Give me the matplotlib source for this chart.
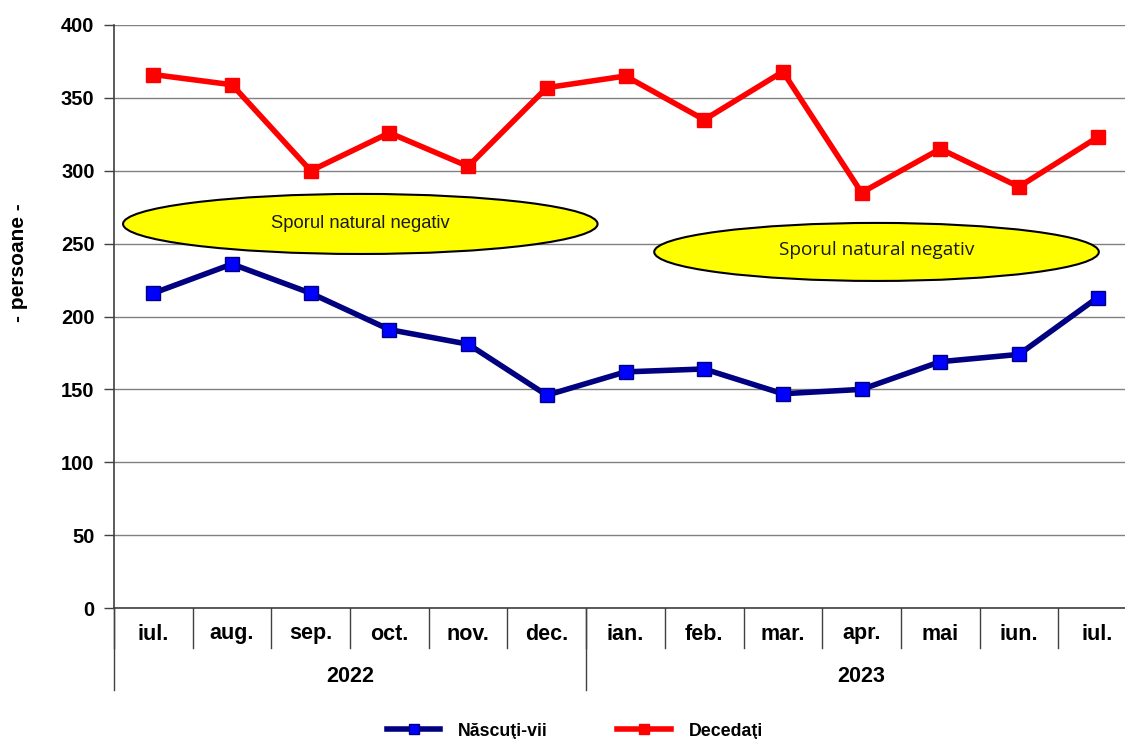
import matplotlib
matplotlib.use("Agg")
import matplotlib.pyplot as plt
from matplotlib.patches import Ellipse
from matplotlib.lines import Line2D

months = ["iul.", "aug.", "sep.", "oct.", "nov.", "dec.", "ian.", "feb.", "mar.", "apr.", "mai", "iun.", "iul."]
years = ["2022", "2023"]
year_counts = [6, 7]
nascuti = [216, 236, 216, 191, 181, 146, 162, 164, 147, 150, 169, 174, 213]
decedati = [366, 359, 300, 326, 303, 357, 365, 335, 368, 285, 315, 289, 323]
yticks = [0, 50, 100, 150, 200, 250, 300, 350, 400]

plt.rcParams['font.family'] = ['Liberation Sans', 'DejaVu Sans']

fig = plt.figure(figsize=(11.25, 7.39), dpi=100)
ax = fig.add_axes([114/1125, 1-608/739, (1137-114)/1125, (608-25)/739])

x = list(range(len(months)))
ax.plot(x, decedati, color="#FF0000", lw=4, marker="s", ms=9.5,
        mfc="#FF0000", mec="#FF0000", zorder=4, solid_joinstyle="miter")
ax.plot(x, nascuti, color="#000080", lw=4, marker="s", ms=9.5,
        mfc="#0000FF", mec="#000080", mew=1, zorder=4, solid_joinstyle="miter")

ax.set_xlim(-0.5, len(months)-0.5)
ax.set_ylim(0, 400)
ax.set_yticks(yticks)
ax.set_yticklabels([str(v) for v in yticks], fontsize=14.5, fontweight="bold")
ax.tick_params(axis="y", direction="out", length=7, width=1, color="#404040", pad=7)
ax.tick_params(axis="x", length=0, labelbottom=False)
ax.grid(axis="y", color="#808080", lw=1)
ax.set_axisbelow(True)
for s in ["top", "right"]:
    ax.spines[s].set_visible(False)
ax.spines["left"].set_color("#404040")
ax.spines["bottom"].set_color("#404040")
ax.spines["left"].set_linewidth(1.2)
ax.spines["bottom"].set_linewidth(1.2)

ax.set_ylabel("- persoane -", fontsize=15, fontweight="bold")
ax.yaxis.set_label_coords((28-114)/1023, (608-263)/583)

# category axis below
trans = ax.get_xaxis_transform()
h_axes = (608-25)
short = -40/h_axes
long = -82/h_axes
for i in range(len(months)+1):
    ax.plot([i-0.5, i-0.5], [0, short], transform=trans, color="#404040", lw=1, clip_on=False)
for i, m in enumerate(months):
    ax.text(i, -26/h_axes, m, transform=trans, ha="center", va="center",
            fontsize=15.5, fontweight="bold")
pos = -0.5
ax.plot([pos, pos], [0, long], transform=trans, color="#404040", lw=1, clip_on=False)
for yr, c in zip(years, year_counts):
    ax.text(pos + c/2, -69/h_axes, yr, transform=trans, ha="center", va="center",
            fontsize=15.5, fontweight="bold")
    pos += c
    ax.plot([pos, pos], [0, long], transform=trans, color="#404040", lw=1, clip_on=False)

# ellipses
e1 = Ellipse((2.63, 263.5), 6.03, 41.2, facecolor="#FFFF00", edgecolor="black", lw=1.5, zorder=3)
e2 = Ellipse((9.19, 244.3), 5.65, 39.8, facecolor="#FFFF00", edgecolor="black", lw=1.5, zorder=3)
ax.add_patch(e1)
ax.add_patch(e2)
ax.text(2.63, 263.5, "Sporul natural negativ", ha="center", va="center", fontsize=13.2, zorder=5,
        color="#1a1a1a")
ax.text(9.19, 245.5, "Sporul natural negativ", ha="center", va="center", fontsize=13.7, zorder=5,
        family=["Open Sans", "DejaVu Sans"], color="#1a1a1a")

# legend
h1 = Line2D([], [], color="#000080", lw=4, marker="s", ms=7, mfc="#0000FF", mec="#000080")
h2 = Line2D([], [], color="#FF0000", lw=4, marker="s", ms=7, mfc="#FF0000", mec="#FF0000")
fig.legend([h1, h2], ["Născuţi-vii", "Decedaţi"], loc="center", bbox_to_anchor=(0.511, 1-731/739),
           ncol=2, frameon=False, prop={"weight": "bold", "size": 12.8}, handlelength=3.0,
           columnspacing=3.9, handletextpad=1.0)

fig.savefig("out.png", dpi=100)
